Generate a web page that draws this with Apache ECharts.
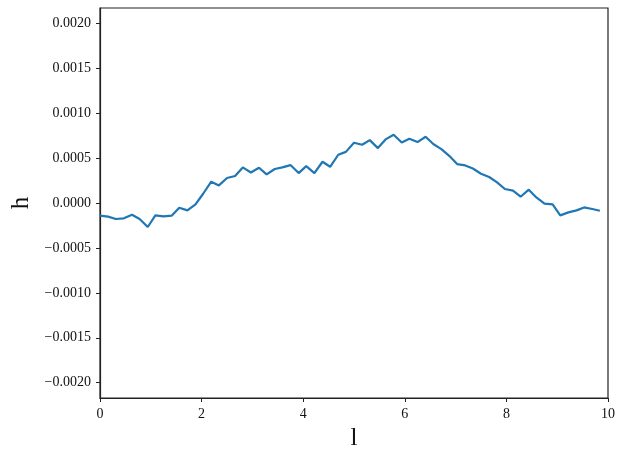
<!DOCTYPE html>
<html>
<head>
<meta charset="utf-8">
<script src="https://cdn.jsdelivr.net/npm/echarts@6/dist/echarts.min.js"></script>
<style>
  html, body { margin: 0; padding: 0; background: #fff; }
  #chart { width: 618px; height: 450px; }
</style>
</head>
<body>
<div id="chart"></div>
<script>
// x positions (l)
var lValues = [
  0.00, 0.16, 0.31, 0.47, 0.63, 0.78, 0.94, 1.09, 1.25, 1.41, 1.56, 1.72, 1.88, 2.03, 2.19, 2.34,
  2.50, 2.66, 2.81, 2.97, 3.13, 3.28, 3.44, 3.59, 3.75, 3.91, 4.06, 4.22, 4.38, 4.53, 4.69, 4.84,
  5.00, 5.16, 5.31, 5.47, 5.63, 5.78, 5.94, 6.09, 6.25, 6.41, 6.56, 6.72, 6.88, 7.03, 7.19, 7.34,
  7.50, 7.66, 7.81, 7.97, 8.13, 8.28, 8.44, 8.59, 8.75, 8.91, 9.06, 9.22, 9.38, 9.53, 9.69, 9.84
];
// h values
var hValues = [
  -0.000141, -0.000152, -0.000178, -0.000171, -0.000130, -0.000178, -0.000267, -0.000138,
  -0.000149, -0.000141, -0.000052, -0.000082, -0.000016, 0.000103, 0.000237, 0.000196,
  0.000278, 0.000300, 0.000396, 0.000340, 0.000392, 0.000318, 0.000378, 0.000396,
  0.000422, 0.000333, 0.000411, 0.000333, 0.000459, 0.000403, 0.000537, 0.000569,
  0.000670, 0.000648, 0.000700, 0.000611, 0.000711, 0.000759, 0.000673, 0.000714,
  0.000678, 0.000737, 0.000656, 0.000600, 0.000522, 0.000433, 0.000418, 0.000384,
  0.000326, 0.000289, 0.000233, 0.000156, 0.000137, 0.000070, 0.000148, 0.000062,
  -0.000008, -0.000016, -0.000138, -0.000104, -0.000082, -0.000049, -0.000067, -0.000086
];
// tick labels
var xTicks = [0, 2, 4, 6, 8, 10];
var yTicks = [-0.002, -0.0015, -0.001, -0.0005, 0, 0.0005, 0.001, 0.0015, 0.002];

var seriesData = lValues.map(function (l, i) {
  return [l, hValues[i]];
});

var fontFamily = '"Liberation Serif", "DejaVu Serif", serif';

var myChart = echarts.init(document.getElementById('chart'), null, { renderer: 'canvas' });
myChart.setOption({
  animation: false,
  backgroundColor: '#fff',
  textStyle: { fontFamily: fontFamily },
  grid: {
    left: 100,
    right: 10,
    top: 8,
    bottom: 52,
    outerBoundsMode: 'none',
    containLabel: false,
    show: true,
    borderColor: '#222',
    borderWidth: 1.2,
    backgroundColor: 'transparent'
  },
  xAxis: {
    type: 'value',
    min: 0,
    max: 10,
    interval: 2,
    name: 'l',
    nameLocation: 'middle',
    nameGap: 27,
    nameTextStyle: { fontSize: 25, color: '#111', fontFamily: fontFamily },
    splitLine: { show: false },
    axisLine: { show: true, onZero: false, lineStyle: { color: '#222', width: 1.2 } },
    axisTick: { show: true, length: 4, lineStyle: { color: '#222' } },
    axisLabel: {
      color: '#111',
      fontSize: 14,
      margin: 9,
      fontFamily: fontFamily,
      customValues: xTicks
    }
  },
  yAxis: {
    type: 'value',
    min: -0.00217,
    max: 0.00217,
    name: 'h',
    nameLocation: 'middle',
    nameGap: 57,
    nameRotate: 90,
    nameTextStyle: { fontSize: 25, color: '#111', fontFamily: fontFamily },
    splitLine: { show: false },
    axisLine: { show: true, onZero: false, lineStyle: { color: '#222', width: 1.2 } },
    axisTick: { show: true, length: 4, lineStyle: { color: '#222' }, customValues: yTicks },
    axisLabel: {
      color: '#111',
      fontSize: 14,
      margin: 9,
      fontFamily: fontFamily,
      customValues: yTicks,
      formatter: function (v) {
        return v.toFixed(4).replace('-', '\u2212');
      }
    }
  },
  series: [
    {
      type: 'line',
      data: seriesData,
      showSymbol: false,
      symbol: 'none',
      lineStyle: { color: '#1f77b4', width: 2.2 },
      itemStyle: { color: '#1f77b4' }
    }
  ]
});
</script>
</body>
</html>
